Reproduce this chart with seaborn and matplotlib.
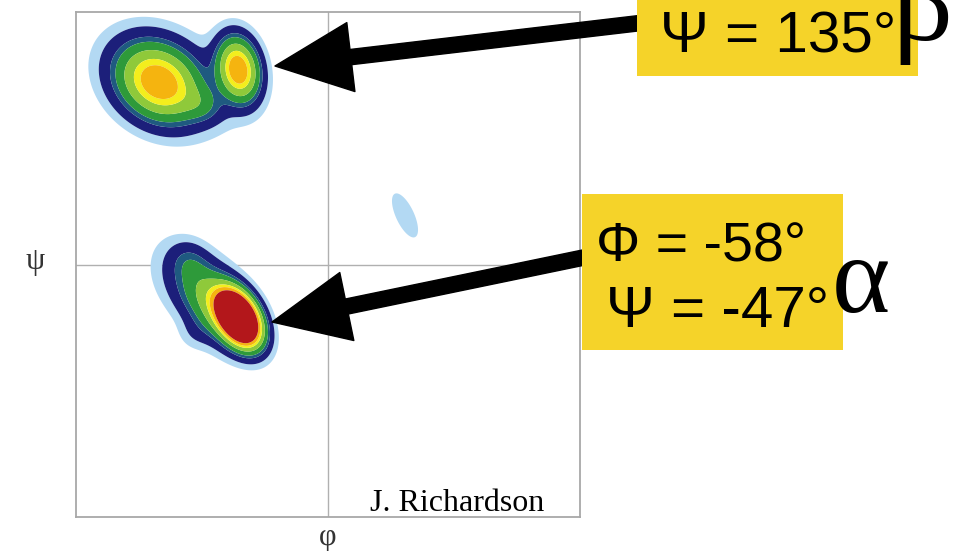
import numpy as np
import seaborn as sns
import matplotlib.pyplot as plt
from matplotlib.patches import Rectangle, FancyArrowPatch

sns.set_style("white")
plt.rcParams['font.family'] = ['Liberation Sans', 'DejaVu Sans']
plt.rcParams['text.color'] = 'black'

# density blobs (phi, psi in degrees)
#            alpha envelope, alpha core, alpha tail, alpha halo, alpha bump,
#            beta main, beta right, beta bridge, beta halo, left-handed
blob_phi = [-80, -64, -99, -105, -95, -121, -64, -90, -108, 55]
blob_psi = [-28, -38, 2, -10, -49, 130, 139, 114, 130, 35]
blob_long = [21, 12.5, 9, 20, 8, 19.5, 14, 10, 36, 14.5]
blob_short = [12, 7.8, 8, 14, 8, 15.5, 9, 8, 22, 5.5]
blob_tilt = [-53, -60, -53, -60, 0, -35, -80, -20, -25, -65]
blob_weight = [0.42, 2.4, 0.08, 0.05, 0.035, 0.75, 0.78, 0.12, 0.045, 0.05]

levels = [0.025, 0.06, 0.14, 0.2, 0.33, 0.5, 0.62, 0.8, 10]
level_colors = ['#b3d9f3', '#1c1f7a', '#1f5a80', '#2e9a3a', '#8fc93a',
                '#f3ee1d', '#f5b40f', '#b3171b']

phi = np.linspace(-180, 180, 721)
psi = np.linspace(-180, 180, 721)
P, S = np.meshgrid(phi, psi)
Z = np.zeros_like(P)
for cx, cy, sa, sb, ang, w in zip(blob_phi, blob_psi, blob_long, blob_short,
                                  blob_tilt, blob_weight):
    t = np.deg2rad(ang)
    dx, dy = P - cx, S - cy
    u = dx * np.cos(t) + dy * np.sin(t)
    v = -dx * np.sin(t) + dy * np.cos(t)
    Z += w * np.exp(-0.5 * ((u / sa) ** 2 + (v / sb) ** 2))

W, H = 955, 551
fig = plt.figure(figsize=(W / 100, H / 100), dpi=100)


def fp(x, y):
    return (x / W, 1 - y / H)


ax = fig.add_axes([76 / W, 1 - 517 / H, 504 / W, 505 / H])
ax.contourf(P, S, Z, levels=levels, colors=level_colors, antialiased=True)
ax.axhline(0, color='#b0b0b0', lw=1.0, zorder=0)
ax.axvline(0, color='#b0b0b0', lw=1.0, zorder=0)
ax.set_xlim(-180, 180)
ax.set_ylim(-180, 180)
ax.set_xticks([])
ax.set_yticks([])
for s in ax.spines.values():
    s.set_color('#a8a8a8')
    s.set_linewidth(1.3)

serif = ['Liberation Serif', 'DejaVu Serif']
fig.text(*fp(35, 262), 'ψ', family=serif, fontsize=22, color='#333333',
         ha='center', va='center')
fig.text(*fp(328, 538), 'φ', family=serif, fontsize=22, color='#333333',
         ha='center', va='center')
fig.text(*fp(370, 511), 'J. Richardson', family=serif, fontsize=23,
         ha='left', va='baseline')

# arrows
arrow_style = 'simple,head_length=0.55,head_width=0.5,tail_width=0.11'
for start, tip in [((700, 16), (275, 66)), ((620, 250), (272, 322))]:
    fig.add_artist(FancyArrowPatch(fp(*start), fp(*tip), transform=fig.transFigure,
                                   arrowstyle=arrow_style, mutation_scale=100,
                                   color='black', shrinkA=0, shrinkB=0, zorder=2))

yellow = '#f5d329'
fig.add_artist(Rectangle(fp(637, 76), 281 / W, 90 / H, transform=fig.transFigure,
                         facecolor=yellow, edgecolor='none', zorder=3))
fig.add_artist(Rectangle(fp(582, 350), 261 / W, 156 / H, transform=fig.transFigure,
                         facecolor=yellow, edgecolor='none', zorder=3))

fig.text(*fp(660, 53), 'Ψ = 135°', fontsize=42, ha='left', va='baseline', zorder=4)
fig.text(*fp(596, 262), 'Φ = -58°', fontsize=40, ha='left', va='baseline', zorder=4)
fig.text(*fp(606, 327), 'Ψ = -47°', fontsize=42, ha='left', va='baseline', zorder=4)
fig.text(*fp(892, 40), 'β', family=serif, fontsize=85, ha='left', va='baseline', zorder=5)
fig.text(*fp(832, 312), 'α', family=serif, fontsize=80, ha='left', va='baseline', zorder=5)

fig.savefig('out.png', dpi=100)
